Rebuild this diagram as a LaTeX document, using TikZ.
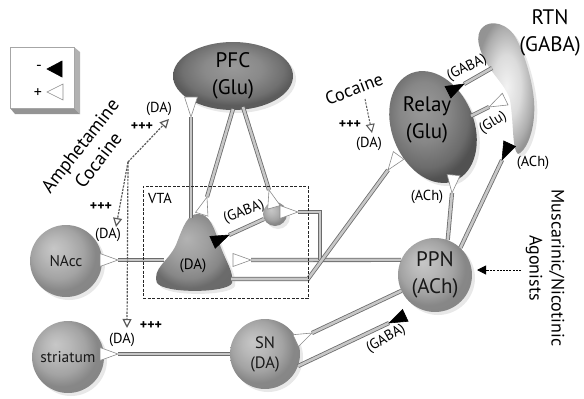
\documentclass[tikz,border=0pt]{standalone}
\usepackage{fontspec}
\setmainfont{PT Sans}
\usetikzlibrary{arrows.meta,shapes.geometric,shadows}
\pgfdeclarelayer{bg}
\pgfdeclarelayer{mid}
\pgfsetlayers{bg,mid,main}
\pgfdeclareradialshading{sphereshade}{\pgfqpoint{-9bp}{9bp}}{color(0bp)=(black!22); color(9bp)=(black!28); color(18bp)=(black!36); color(25bp)=(black!47); color(50bp)=(black!50)}
\pgfdeclareradialshading{pfcshade}{\pgfqpoint{0bp}{7bp}}{color(0bp)=(black!40); color(12bp)=(black!46); color(21bp)=(black!56); color(25bp)=(black!64); color(50bp)=(black!66)}
\pgfdeclareradialshading{relayshade}{\pgfqpoint{-6bp}{8bp}}{color(0bp)=(black!40); color(12bp)=(black!47); color(21bp)=(black!58); color(25bp)=(black!68); color(50bp)=(black!70)}
\pgfdeclareradialshading{rtnshade}{\pgfqpoint{0bp}{0bp}}{color(0bp)=(black!5); color(12bp)=(black!14); color(22bp)=(black!32); color(26bp)=(black!42); color(50bp)=(black!45)}
\pgfdeclareradialshading{vtashade}{\pgfqpoint{-4bp}{10bp}}{color(0bp)=(black!30); color(12bp)=(black!38); color(21bp)=(black!47); color(26bp)=(black!58); color(50bp)=(black!60)}
\tikzset{
  shad/.style={drop shadow={opacity=0.18, shadow xshift=3pt, shadow yshift=-3pt}},
  region/.style={circle, shading=sphereshade, minimum size=72pt, inner sep=0pt, align=center, text=black!90, shad},
  axon/.style={draw=black!58, double=black!22, double distance=2.6pt, line width=0.8pt},
  termbase/.style={isosceles triangle, isosceles triangle stretches=true, inner sep=0pt, outer sep=0pt, minimum width=13pt, minimum height=18pt, anchor=apex},
  exc/.style={termbase, draw=black!45, fill=white, line width=0.6pt},
  inh/.style={termbase, draw=black, fill=black, line width=0.6pt},
  lbl/.style={font=\fontsize{14.5}{16}\selectfont, inner sep=0pt},
  plus/.style={font=\bfseries\fontsize{14}{15}\selectfont, inner sep=0pt},
  drug/.style={draw=black!65, line width=1.2pt, dash pattern=on 2.2pt off 1.2pt, -{Triangle[length=9pt,width=9pt,fill=white]}},
  big/.style={font=\fontsize{21}{27}\selectfont},
}
\begin{document}
\begin{tikzpicture}[x=1pt,y=-1pt]
\useasboundingbox (0,0) rectangle (584,399);

% ---------- regions ----------
\begin{pgfonlayer}{bg}
\node[ellipse, shading=pfcshade, minimum width=120pt, minimum height=68pt, inner sep=0pt, align=center, big, shad] (pfc) at (233,76) {PFC\\(Glu)};
\node[ellipse, shading=relayshade, minimum width=82pt, minimum height=116pt, inner sep=0pt, rotate=22, shad] (relay) at (433,127) {};
\node[big, align=center] (relaylbl) at (427,120) {Relay\\(Glu)};
\shade[shading=rtnshade, shad] (483,27) .. controls (490,20) and (508,22) .. (517,40) .. controls (528,62) and (536,95) .. (534,115) .. controls (533,135) and (525,152) .. (518,154) .. controls (512,150) and (514,125) .. (510,100) .. controls (505,82) and (485,70) .. (479,45) .. controls (477,37) and (479,30) .. (483,27) -- cycle;
\node[big, align=center] (rtnlbl) at (550,33) {RTN\\(GABA)};
\shade[shading=vtashade, shad] (157,283) .. controls (152,268) and (168,262) .. (176,245) .. controls (184,224) and (188,214) .. (198,214) .. controls (210,214) and (214,228) .. (220,245) .. controls (226,262) and (234,272) .. (232,283) .. controls (228,293) and (165,294) .. (157,283) -- cycle;
\node[font=\fontsize{15}{16}\selectfont] (vtada) at (193,266) {(DA)};
\node[region, font=\fontsize{15.5}{17}\selectfont] (nacc) at (66,261) {NAcc};
\node[region, font=\fontsize{15.5}{17}\selectfont] (str) at (68,357) {striatum};
\node[region, minimum size=70pt, font=\fontsize{16.5}{20}\selectfont] (sn) at (265,354) {SN\\(DA)};
\node[region, minimum size=74pt, big] (ppn) at (435,275) {PPN\\(ACh)};
\node[circle, shading=sphereshade, minimum size=24pt, inner sep=0pt, shad] (gaba) at (275,214) {};
\end{pgfonlayer}

% VTA box
\node[draw=black!85, line width=0.5pt, dash pattern=on 3pt off 1.5pt, minimum width=165pt, minimum height=112pt, inner sep=0pt] (vtabox) at (225.5,242) {};
\node[font=\fontsize{14.5}{16}\selectfont] (vtalbl) at (160,198) {VTA};

% attachment points
\coordinate (vtaTop) at (191,218);
\coordinate (vtaL) at (164,260);
\coordinate (vtaR) at (231,279);
\coordinate (bend1) at (308,279);
\coordinate (br1) at (320,260);
\coordinate (pfcB) at (233,109);
\coordinate (pfcC) at (243,107);
\coordinate (rtnA) at (492,68);
\coordinate (relayA) at (471,116);

% ---------- terminals ----------
\node[exc, rotate=-90, minimum height=20pt, minimum width=13pt] (t1) at (191,117) {};
\node[exc, rotate=73] (t2) at (207,197) {};
\node[exc, rotate=106] (t3) at (269,190) {};
\node[inh, rotate=24] (t4) at (229,235) {};
\node[exc, rotate=0] (t5) at (298,212) {};
\node[exc, rotate=0] (t6) at (251,260) {};
\node[exc, rotate=234] (t7) at (388,170) {};
\node[exc, rotate=0] (t8) at (118,260) {};
\node[exc, rotate=0] (t9) at (118,354) {};
\node[exc, rotate=25] (t10) at (312,333) {};
\node[inh, rotate=205] (t11) at (389,323) {};
\node[exc, rotate=265] (t12) at (452,193) {};
\node[inh, rotate=245] (t13) at (502,160) {};
\node[inh, rotate=27] (t14) at (464,84) {};
\node[exc, rotate=206] (t15) at (489,107) {};

% ---------- axons ----------
\begin{pgfonlayer}{mid}
\draw[axon] (vtaTop) -- (t1.apex);
\draw[axon] (pfcB) -- (t2.apex);
\draw[axon] (pfcC) -- (t3.apex);
\draw[axon] (gaba) -- (t4.apex);
\draw[axon] (ppn.156) -- (t6.apex);
\draw[axon] (br1) |- (t5.apex);
\draw[axon] (vtaR) -- (bend1) -- (t7.apex);
\draw[axon] (vtaL) -- (t8.apex);
\draw[axon] (sn.180) -- (t9.apex);
\draw[axon] (ppn) -- (t10.apex);
\draw[axon] (sn.-20) -- (t11.apex);
\draw[axon] (ppn.70) -- (t12.apex);
\draw[axon] (ppn.47) -- (t13.apex);
\draw[axon] (rtnA) -- (t14.apex);
\draw[axon] (relayA) -- (t15.apex);
\end{pgfonlayer}

% ---------- labels ----------
\node[lbl] (daA) at (159,109) {(DA)};
\node[plus] (ppA) at (142,127) {+++};
\node[lbl] (daB) at (108,235) {(DA)};
\node[plus] (ppB) at (101,207) {+++};
\node[lbl] (daC) at (122,340) {(DA)};
\node[plus] (ppC) at (151,326) {+++};
\node[lbl] (daD) at (369,144) {(DA)};
\node[plus] (ppD) at (350,125) {+++};
\node[lbl, rotate=21] (gabaL1) at (244,212) {(GABA)};
\node[lbl, rotate=27] (gabaL2) at (467,68) {(GABA)};
\node[lbl, rotate=31] (gluL) at (493,123) {(Glu)};
\node[lbl, rotate=30] (gabaL3) at (386,339) {(GABA)};
\node[lbl] (achL1) at (427,197) {(ACh)};
\node[lbl] (achL2) at (533,163) {(ACh)};

% ---------- drugs ----------
\node[rotate=52, align=center, font=\fontsize{19}{23}\selectfont, inner sep=0pt] (amph) at (89,153) {Amphetamine\\Cocaine};
\coordinate (amJ) at (128,162);
\coordinate (amT1) at (169,119);
\coordinate (amT2) at (116,227);
\coordinate (amT3) at (127,328);
\draw[drug] (amJ) -- (amT1);
\draw[drug] (amJ) -- (amT2);
\draw[drug] (amJ) -- (amT3);
\node[rotate=21, font=\fontsize{18}{20}\selectfont, inner sep=0pt] (coc) at (354,89) {Cocaine};
\coordinate (cocS) at (365,99);
\coordinate (cocT) at (372,133);
\draw[drug, line width=1pt] (cocS) -- (cocT);
\node[rotate=-90, align=center, font=\fontsize{18}{22}\selectfont, inner sep=0pt] (mus) at (545,268) {Muscarinic/Nicotinic\\Agonists};
\coordinate (musS) at (521,270);
\coordinate (musT) at (477,270);
\draw[black, line width=1pt, dash pattern=on 2pt off 1.2pt, -{Triangle[length=9pt,width=9pt]}] (musS) -- (musT);

% ---------- legend ----------
\fill[black!30] (74,47) -- (80,52) -- (80,114) -- (74,108) -- cycle;
\fill[black!42] (10,108) -- (74,108) -- (80,114) -- (15,114) -- cycle;
\draw[black!35, fill=white] (10,47) rectangle (74,108);
\node[inh, rotate=180, minimum width=16pt, minimum height=15pt] (lgm) at (47,69) {};
\node[exc, rotate=180, minimum width=16pt, minimum height=16pt] (lgp) at (47,92) {};
\node[font=\fontsize{16}{16}\selectfont, inner sep=0pt] (lgmt) at (39,68) {-};
\node[font=\fontsize{16}{16}\selectfont, inner sep=0pt] (lgpt) at (38,93) {+};
\end{tikzpicture}
\end{document}
